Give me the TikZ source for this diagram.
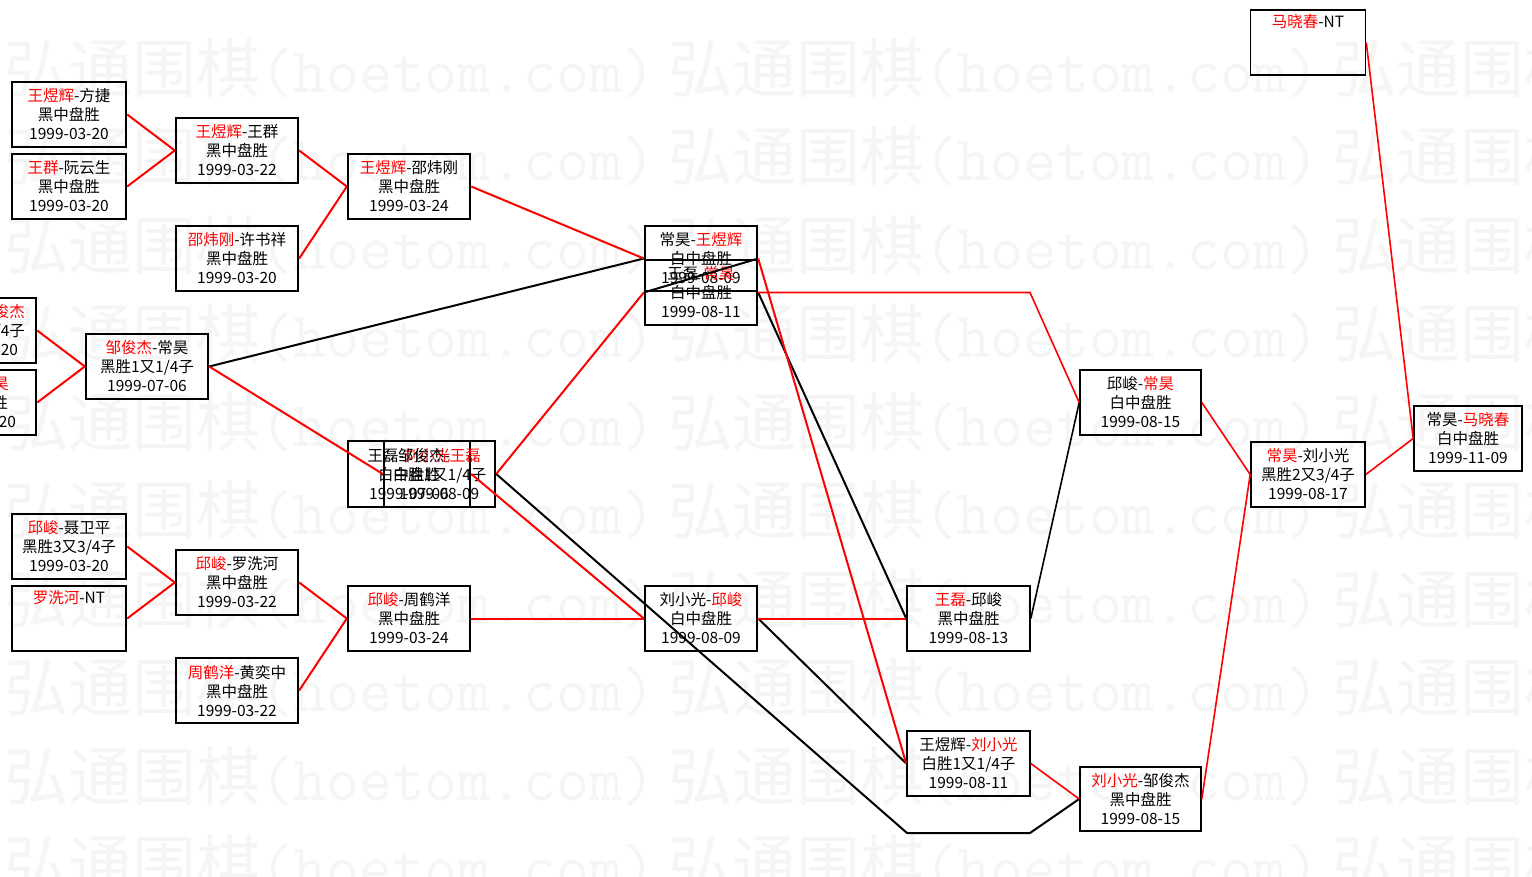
\documentclass[tikz,border=0pt]{standalone}
\usepackage{fontspec}
\setmainfont{Noto Sans CJK SC}
\newcommand\R[1]{\textcolor{red}{#1}}
\tikzset{
  gbox/.style={draw=black, line width=2.4pt, minimum height=65pt, inner sep=0pt, align=center, font=\fontsize{15.5}{19}\selectfont},
  tbox/.style={gbox, line width=1.6pt},
  pbox/.style={gbox, text width=116pt, align=right},
  rl/.style={draw=red, line width=2pt},
  kl/.style={draw=black, line width=2pt},
  wm/.style={text=black!4, anchor=west, inner sep=0pt, font=\fontsize{64}{64}\selectfont}
}
\begin{document}
\begin{tikzpicture}[x=1pt,y=-1pt]
\useasboundingbox (0,0) rectangle (1532,877);
\clip (0,0) rectangle (1532,877);
\fill[white] (0,0) rectangle (1532,877);
% watermark
\foreach \i in {0,...,9}{
  \foreach \xx [count=\j] in {4,668,1332}{
    \node[wm] (wm-\i-\j) at (\xx,{68+88.5*\i}) {弘通围棋{\ttfamily(hoetom.com)}};
  }
}
% boxes
\node[gbox, minimum width=114pt] (b1) at (69,114.5) {\R{王煜辉}-方捷\\黑中盘胜\\1999-03-20};
\node[gbox, minimum width=114pt] (b2) at (69,186.5) {\R{王群}-阮云生\\黑中盘胜\\1999-03-20};
\node[gbox, minimum width=122pt] (b3) at (237,150.5) {\R{王煜辉}-王群\\黑中盘胜\\1999-03-22};
\node[gbox, minimum width=122pt] (b4) at (237,258.5) {\R{邵炜刚}-许书祥\\黑中盘胜\\1999-03-20};
\node[gbox, minimum width=122pt] (b5) at (409,186.5) {\R{王煜辉}-邵炜刚\\黑中盘胜\\1999-03-24};
\node[pbox] (b6) at (-22,330.5) {\R{邹俊杰}\kern11pt\\1/4子\kern11pt\\03-20\kern18pt};
\node[pbox] (b7) at (-22,402.5) {\R{常昊}\kern27pt\\盘胜\kern28pt\\03-20\kern20pt};
\node[gbox, minimum width=122pt] (b8) at (147,366.5) {\R{邹俊杰}-常昊\\黑胜1又1/4子\\1999-07-06};
\node[gbox, minimum width=122pt, minimum height=66pt] (b9) at (409,474) {王磊-\R{刘小光}\\白中盘胜\\1999-07-06};
\node[gbox, minimum width=111pt, minimum height=66pt] (b10) at (439.5,474) {邹俊杰-\R{王磊}\\白胜1又1/4子\\1999-08-09};
\node[gbox, minimum width=114pt] (b11) at (69,546.5) {\R{邱峻}-聂卫平\\黑胜3又3/4子\\1999-03-20};
\node[gbox, minimum width=114pt] (b12) at (69,618.5) {\R{罗洗河}-NT\\\strut\\\strut};
\node[gbox, minimum width=122pt] (b13) at (237,582.5) {\R{邱峻}-罗洗河\\黑中盘胜\\1999-03-22};
\node[gbox, minimum width=122pt] (b14) at (237,690.5) {\R{周鹤洋}-黄奕中\\黑中盘胜\\1999-03-22};
\node[gbox, minimum width=122pt] (b15) at (409,618.5) {\R{邱峻}-周鹤洋\\黑中盘胜\\1999-03-24};
\node[gbox, minimum width=112pt] (c1) at (701,258.5) {常昊-\R{王煜辉}\\白中盘胜\\1999-08-09};
\node[gbox, minimum width=112pt] (c2) at (701,292.5) {王磊-\R{常昊}\\白中盘胜\\1999-08-11};
\node[gbox, minimum width=112pt] (d1) at (701,618.5) {刘小光-\R{邱峻}\\白中盘胜\\1999-08-09};
\node[tbox, minimum width=123pt] (e1) at (968.5,618.5) {\R{王磊}-邱峻\\黑中盘胜\\1999-08-13};
\node[tbox, minimum width=123pt] (e2) at (968.5,763.5) {王煜辉-\R{刘小光}\\白胜1又1/4子\\1999-08-11};
\node[tbox, minimum width=121pt] (f1) at (1140.5,402.5) {邱峻-\R{常昊}\\白中盘胜\\1999-08-15};
\node[tbox, minimum width=121pt, minimum height=64pt] (f2) at (1140.5,799) {\R{刘小光}-邹俊杰\\黑中盘胜\\1999-08-15};
\node[tbox, minimum width=114pt] (g1) at (1308,474.5) {\R{常昊}-刘小光\\黑胜2又3/4子\\1999-08-17};
\node[tbox, minimum width=115pt] (h1) at (1308,42.5) {\R{马晓春}-NT\\\strut\\\strut};
\node[tbox, minimum width=108pt] (h2) at (1468,438.5) {常昊-\R{马晓春}\\白中盘胜\\1999-11-09};
% bend points
\coordinate (r17a) at (1030,292.5);
\coordinate (k5a) at (907,833);
\coordinate (k5b) at (1030,833);
% black connectors
\draw[kl] (b8.east) -- (c1.west);
\draw[kl] (c1.east) -- (c2.west);
\draw[kl] (c2.east) -- (e1.west);
\draw[kl] (d1.east) -- (e2.west);
\draw[kl] (b10.east) -- (k5a) -- (k5b) -- (f2.west);
\draw[kl, line width=1.6pt] (e1.east) -- (f1.west);
% red connectors
\draw[rl] (b1.east) -- (b3.west);
\draw[rl] (b2.east) -- (b3.west);
\draw[rl] (b3.east) -- (b5.west);
\draw[rl] (b4.east) -- (b5.west);
\draw[rl] (b5.east) -- (c1.west);
\draw[rl] (b6.east) -- (b8.west);
\draw[rl] (b7.east) -- (b8.west);
\draw[rl] (b8.east) -- (b10.west);
\draw[rl] (b9.east) -- (d1.west);
\draw[rl] (b10.east) -- (c2.west);
\draw[rl] (b11.east) -- (b13.west);
\draw[rl] (b12.east) -- (b13.west);
\draw[rl] (b13.east) -- (b15.west);
\draw[rl] (b14.east) -- (b15.west);
\draw[rl] (b15.east) -- (d1.west);
\draw[rl] (c1.east) -- (e2.west);
\draw[rl, line width=1.6pt] (c2.east) -- (r17a) -- (f1.west);
\draw[rl] (d1.east) -- (e1.west);
\draw[rl, line width=1.6pt] (e2.east) -- (f2.west);
\draw[rl, line width=1.6pt] (f1.east) -- (g1.west);
\draw[rl, line width=1.6pt] (f2.east) -- (g1.west);
\draw[rl, line width=1.6pt] (g1.east) -- (h2.west);
\draw[rl, line width=1.6pt] (h1.east) -- (h2.west);
\end{tikzpicture}
\end{document}
